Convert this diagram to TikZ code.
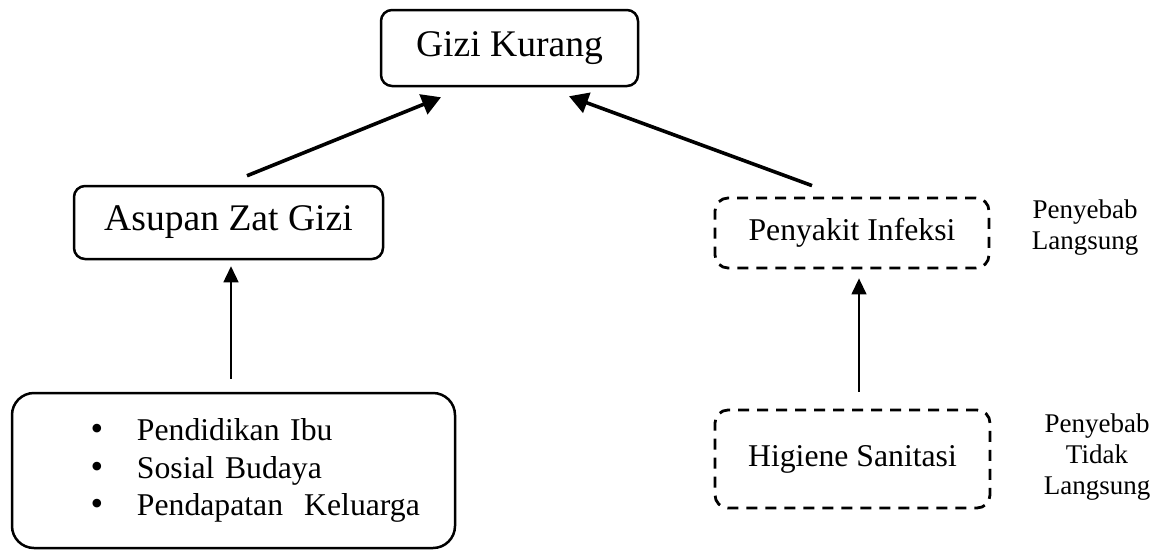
\documentclass[tikz,border=0pt]{standalone}
\usepackage{fontspec}
\setmainfont{Liberation Serif}
\usetikzlibrary{arrows.meta, positioning}

\tikzset{
  solidbox/.style={draw, line width=2.5pt, rounded corners=11pt, align=center},
  dashbox/.style={draw, line width=2.8pt, rounded corners=13pt, dash pattern=on 11pt off 8pt, align=center},
  bigarrow/.style={line width=3.6pt, -{Triangle[length=19pt,width=21pt]}},
  thinarrow/.style={line width=1.4pt, -{Triangle[length=16pt,width=15pt]}},
  sidelabel/.style={align=center, font=\fontsize{27}{31}\selectfont}
}
\newcommand{\listitem}[1]{\hspace*{81pt}\makebox[0pt]{\fontsize{36}{37.5}\selectfont\textbullet}\hspace{40pt}#1}

\begin{document}
\begin{tikzpicture}[x=1pt,y=-1pt]
                \useasboundingbox (0,0) rectangle (1167,550);

                % Outcome
                \node[solidbox, minimum width=257pt, minimum height=76pt, font=\fontsize{37.6}{44}\selectfont] (gizi) at (509.5,48) {Gizi Kurang};

                % Direct causes
                \node[solidbox, minimum width=309pt, minimum height=73pt, font=\fontsize{37.6}{44}\selectfont] (asupan) at (228.5,222.5) {Asupan Zat Gizi};
                \node[dashbox, minimum width=274pt, minimum height=70pt, font=\fontsize{31.7}{37}\selectfont] (infeksi) at (852,233) {Penyakit Infeksi};

                % Indirect causes
                \node[solidbox, rounded corners=22pt, minimum height=155pt, text width=435pt, inner xsep=4pt, align=left, font=\fontsize{31.7}{37.5}\selectfont] (faktor) at (233.5,470.5)
                  {\listitem{Pendidikan Ibu}\\
                   \listitem{Sosial Budaya}\\
                   \listitem{Pendapatan\ \ Keluarga}};
                \node[dashbox, minimum width=275pt, minimum height=98pt, font=\fontsize{31.7}{37}\selectfont] (higiene) at (852.5,459) {Higiene Sanitasi};

                % Side labels
                \node[sidelabel] (langsung) at (1085,228) {Penyebab\\Langsung};
                \node[sidelabel] (tidak) at (1097,457) {Penyebab\\Tidak\\Langsung};

                % Arrows to outcome
                \draw[bigarrow] ([shift={(18.5,-9)}]asupan.north) -- ([shift={(-68.5,10)}]gizi.south);
                \draw[bigarrow] ([shift={(-40,-11)}]infeksi.north) -- ([shift={(59.5,9)}]gizi.south);

                % Arrows from indirect causes
                \draw[thinarrow] ([shift={(-2.5,-13)}]faktor.north) -- ([shift={(2.5,6)}]asupan.south);
                \draw[thinarrow] ([shift={(6.5,-17)}]higiene.north) -- ([shift={(7,9)}]infeksi.south);
            \end{tikzpicture}
\end{document}
